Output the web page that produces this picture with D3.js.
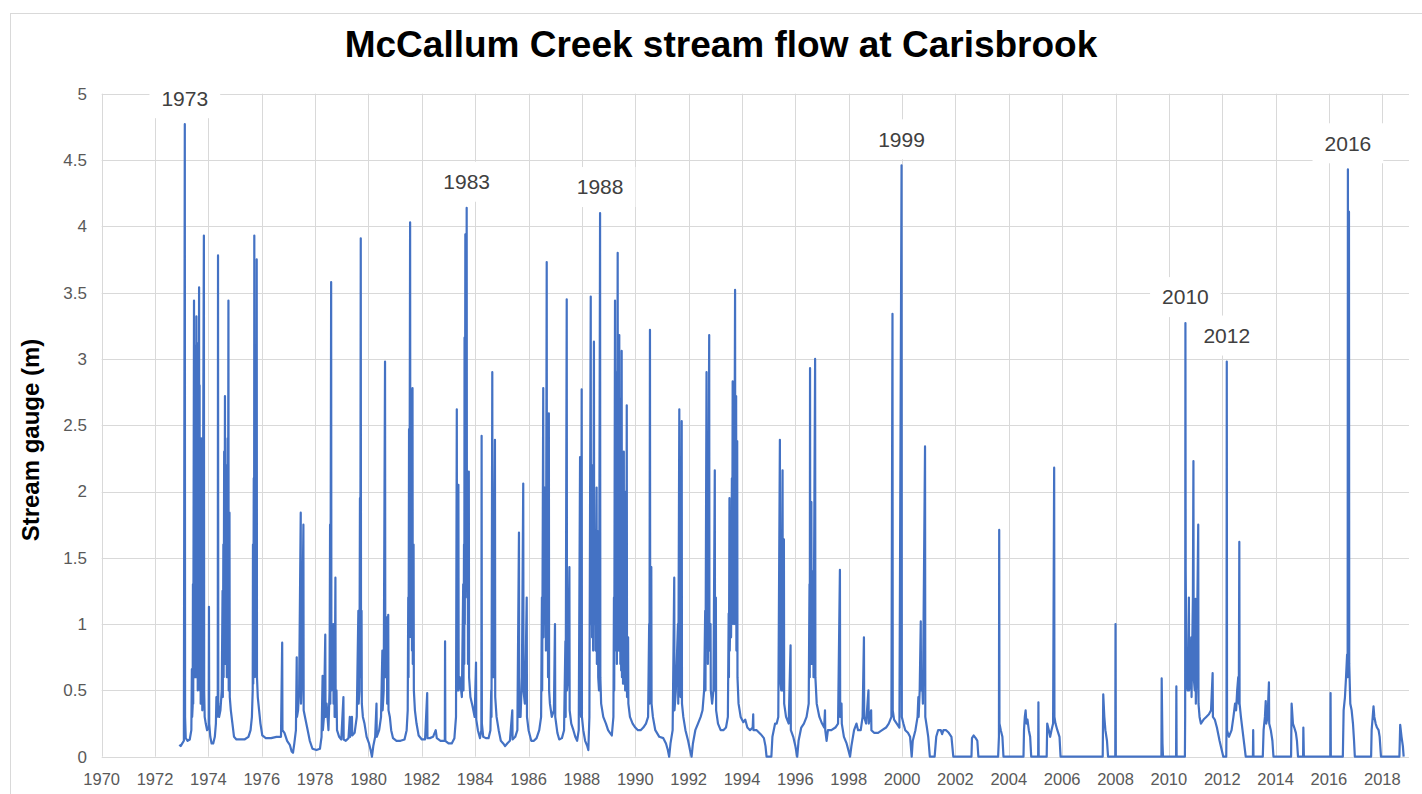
<!DOCTYPE html>
<html><head><meta charset="utf-8">
<script src="https://cdn.jsdelivr.net/npm/d3@7"></script>
<style>body{margin:0;background:#fff} svg{display:block}</style>
</head><body><svg id="c" width="1422" height="794"></svg>
<script>
// Stream gauge readings (m) as [decimal year, gauge height]
const flow1970s = [[1972.91,0.09],[1972.96,0.08],[1973.02,0.1],[1973.08,0.12],[1973.115,4.77],[1973.125,0.3],[1973.15,0.14],[1973.22,0.12],[1973.3,0.13],[1973.36,0.2],
[1973.38,0.66],[1973.39,0.3],[1973.41,0.38],[1973.42,1.3],[1973.43,0.4],
[1973.46,3.44],[1973.47,0.8],[1973.48,2.6],[1973.49,0.6],[1973.5,3.1],[1973.51,0.7],[1973.52,2.95],[1973.53,0.6],[1973.55,3.32],[1973.56,0.9],[1973.57,3.0],[1973.58,0.7],[1973.59,2.9],[1973.6,0.5],[1973.62,3.12],[1973.63,0.8],[1973.65,3.54],[1973.66,0.6],[1973.67,2.8],[1973.68,0.5],[1973.7,1.9],[1973.71,0.4],[1973.73,2.4],[1973.74,0.4],[1973.76,1.2],[1973.77,0.35],[1973.83,3.93],[1973.84,0.5],[1973.86,0.3],[1973.9,0.25],[1973.95,0.2],[1974.01,0.22],[1974.02,1.13],[1974.03,0.25],[1974.07,0.15],[1974.12,0.1],[1974.18,0.1],[1974.24,0.15],[1974.28,0.25],[1974.3,0.45],[1974.32,0.3],[1974.35,0.35],[1974.36,3.78],[1974.37,0.4],[1974.4,0.3],[1974.45,0.35],[1974.5,0.5],[1974.53,1.25],[1974.54,0.45],[1974.56,1.6],[1974.57,0.6],[1974.59,2.3],[1974.6,0.7],[1974.62,2.72],[1974.63,0.9],[1974.65,2.2],[1974.66,0.7],[1974.68,1.9],[1974.69,0.6],[1974.72,2.4],[1974.73,0.6],[1974.75,3.44],[1974.76,0.5],[1974.79,1.84],[1974.8,0.45],[1974.84,0.35],[1974.9,0.25],[1974.96,0.15],
[1975.05,0.13],[1975.2,0.13],[1975.35,0.13],[1975.5,0.15],[1975.58,0.2],[1975.63,0.3],[1975.66,0.5],[1975.67,1.6],[1975.68,0.55],[1975.7,2.1],[1975.71,0.6],[1975.72,3.93],[1975.73,0.9],[1975.75,2.9],[1975.76,0.8],[1975.78,2.2],[1975.79,0.6],[1975.81,3.75],[1975.82,0.6],[1975.85,0.45],[1975.9,0.35],[1975.95,0.25],
[1976.02,0.16],[1976.15,0.14],[1976.35,0.14],[1976.55,0.15],[1976.72,0.15],[1976.765,0.86],[1976.775,0.2],[1976.85,0.18],[1976.95,0.12],
[1977.05,0.09],[1977.12,0.04],[1977.17,0.03],[1977.22,0.1],[1977.28,0.2],[1977.31,0.75],[1977.32,0.3],[1977.36,0.35],[1977.4,0.5],[1977.46,1.84],[1977.47,0.4],[1977.5,0.6],[1977.56,1.75],[1977.57,0.35],[1977.62,0.3],[1977.7,0.22],[1977.8,0.12],[1977.9,0.06],
[1978.05,0.05],[1978.18,0.06],[1978.24,0.15],[1978.28,0.61],[1978.29,0.2],[1978.33,0.3],[1978.38,0.92],[1978.39,0.3],[1978.43,0.4],[1978.5,0.2],[1978.54,0.5],[1978.56,1.75],[1978.57,0.4],[1978.6,3.58],[1978.61,0.5],[1978.65,0.6],[1978.68,1.0],[1978.69,0.4],[1978.72,0.9],[1978.73,0.3],[1978.76,1.35],[1978.77,0.3],[1978.8,0.5],[1978.82,0.2],[1978.9,0.15],[1978.98,0.13],
[1979.06,0.45],[1979.07,0.13],[1979.15,0.12],[1979.25,0.14],[1979.3,0.3],[1979.31,0.15],[1979.38,0.3],[1979.39,0.16],[1979.48,0.18],[1979.56,0.3],[1979.62,1.1],[1979.63,0.4],[1979.66,0.5],[1979.68,1.95],[1979.69,0.6],[1979.71,3.91],[1979.72,0.7],[1979.74,1.1],[1979.75,0.4],[1979.79,0.3],[1979.85,0.25],[1979.93,0.15]];

const flow1980s = [[1980.02,0.1],[1980.08,0.05],[1980.13,0.0],[1980.18,0.08],[1980.25,0.15],[1980.3,0.4],[1980.31,0.15],[1980.4,0.2],[1980.47,0.3],[1980.52,0.8],[1980.53,0.35],[1980.57,0.5],[1980.62,2.98],[1980.63,0.6],[1980.66,0.7],[1980.69,1.05],[1980.7,0.4],[1980.74,1.07],[1980.75,0.35],[1980.8,0.3],[1980.85,0.2],[1980.92,0.14],
[1981.05,0.12],[1981.2,0.12],[1981.35,0.13],[1981.43,0.2],[1981.47,0.35],[1981.49,1.2],[1981.5,0.6],[1981.52,2.47],[1981.53,0.9],[1981.56,4.03],[1981.57,1.1],[1981.59,2.77],[1981.6,0.9],[1981.62,2.5],[1981.63,0.8],[1981.65,2.78],[1981.66,0.7],[1981.69,1.6],[1981.7,0.5],[1981.74,0.35],[1981.8,0.25],[1981.88,0.16],
[1982.0,0.13],[1982.12,0.13],[1982.2,0.48],[1982.21,0.14],[1982.3,0.14],[1982.42,0.15],[1982.52,0.2],[1982.56,0.14],[1982.7,0.12],[1982.86,0.12],[1982.87,0.87],[1982.88,0.12],
[1983.0,0.1],[1983.12,0.1],[1983.22,0.14],[1983.28,0.3],[1983.31,2.62],[1983.32,0.5],[1983.37,2.05],[1983.38,0.5],[1983.42,0.6],[1983.5,0.45],[1983.55,1.3],[1983.56,0.5],[1983.58,1.6],[1983.59,0.7],[1983.6,3.16],[1983.61,1.0],[1983.63,3.94],[1983.64,1.2],[1983.66,2.5],[1983.67,1.3],[1983.68,4.14],[1983.69,1.3],[1983.72,1.6],[1983.73,0.7],[1983.76,2.15],[1983.77,0.6],[1983.82,0.45],[1983.9,0.38],[1983.98,0.3],
[1984.03,0.71],[1984.04,0.28],[1984.1,0.2],[1984.18,0.14],[1984.23,0.2],[1984.24,2.42],[1984.25,0.25],[1984.3,0.15],[1984.4,0.14],[1984.5,0.14],[1984.57,0.2],[1984.6,0.5],[1984.61,0.3],[1984.64,2.9],[1984.65,0.8],[1984.67,1.46],[1984.68,0.6],[1984.74,2.39],[1984.75,0.45],[1984.8,0.3],[1984.88,0.2],[1984.96,0.12],
[1985.05,0.1],[1985.12,0.08],[1985.2,0.1],[1985.3,0.12],[1985.39,0.35],[1985.4,0.13],[1985.5,0.15],[1985.58,0.2],[1985.64,1.69],[1985.65,0.3],[1985.7,0.3],[1985.75,0.6],[1985.8,2.06],[1985.81,0.5],[1985.86,0.4],[1985.9,0.8],[1985.93,1.2],[1985.94,0.3],
[1986.0,0.2],[1986.1,0.12],[1986.2,0.12],[1986.3,0.14],[1986.4,0.2],[1986.47,0.3],[1986.5,1.2],[1986.51,0.5],[1986.55,2.78],[1986.56,0.9],[1986.6,2.03],[1986.61,1.0],[1986.64,1.8],[1986.65,0.8],[1986.68,3.73],[1986.69,1.0],[1986.72,1.5],[1986.73,0.6],[1986.76,2.59],[1986.77,0.5],[1986.8,0.4],[1986.87,0.3],[1986.95,0.35],[1986.99,1.0],
[1987.0,0.3],[1987.08,0.18],[1987.15,0.13],[1987.25,0.14],[1987.33,0.2],[1987.38,0.87],[1987.39,0.3],[1987.43,3.45],[1987.44,0.5],[1987.48,0.6],[1987.53,1.43],[1987.54,0.35],[1987.6,0.25],[1987.68,0.2],[1987.75,0.15],[1987.82,0.12],[1987.88,0.2],[1987.93,2.26],[1987.94,0.4],[1987.97,0.3],[1987.99,2.77],
[1988.0,0.3],[1988.05,0.2],[1988.12,0.12],[1988.2,0.08],[1988.24,0.05],[1988.28,0.3],[1988.33,3.47],[1988.34,1.0],[1988.37,2.2],[1988.38,0.9],[1988.41,1.75],[1988.42,0.8],[1988.45,3.13],[1988.46,1.0],[1988.5,1.6],[1988.51,0.8],[1988.55,2.03],[1988.56,0.7],[1988.6,1.7],[1988.61,0.6],[1988.64,0.5],[1988.68,4.1],[1988.69,0.6],[1988.72,0.4],[1988.8,0.3],[1988.9,0.25],[1988.98,0.2],
[1989.05,0.18],[1989.12,0.16],[1989.18,0.3],[1989.2,1.2],[1989.21,0.5],[1989.24,3.44],[1989.25,1.0],[1989.27,2.4],[1989.28,0.8],[1989.3,2.9],[1989.31,0.7],[1989.34,3.8],[1989.35,0.9],[1989.37,2.2],[1989.38,0.8],[1989.4,3.18],[1989.41,0.8],[1989.43,2.1],[1989.44,0.7],[1989.46,2.7],[1989.47,0.65],[1989.49,3.06],[1989.5,0.6],[1989.53,1.8],[1989.54,0.55],[1989.57,2.3],[1989.58,0.55],[1989.61,1.5],[1989.62,0.5],[1989.65,2.0],[1989.66,0.5],[1989.68,2.65],[1989.69,0.45],[1989.73,0.9],[1989.74,0.4],[1989.8,0.3],[1989.9,0.25]];

const flow1990s = [[1990.0,0.22],[1990.1,0.2],[1990.2,0.2],[1990.3,0.22],[1990.4,0.25],[1990.48,0.3],[1990.52,1.0],[1990.53,0.4],[1990.55,3.22],[1990.56,0.6],[1990.6,1.43],[1990.61,0.4],[1990.66,0.3],[1990.75,0.2],[1990.9,0.15],
[1991.05,0.14],[1991.15,0.1],[1991.22,0.05],[1991.27,0.0],[1991.32,0.1],[1991.4,0.2],[1991.46,1.35],[1991.47,0.35],[1991.52,0.5],[1991.6,1.0],[1991.61,0.4],[1991.65,2.62],[1991.66,0.5],[1991.7,0.45],[1991.74,2.53],[1991.75,0.4],[1991.8,0.3],[1991.88,0.2],[1991.98,0.12],
[1992.05,0.05],[1992.11,0.0],[1992.16,0.1],[1992.25,0.2],[1992.35,0.25],[1992.45,0.3],[1992.52,0.35],[1992.58,0.5],[1992.62,1.1],[1992.63,0.5],[1992.67,2.9],[1992.68,0.9],[1992.71,1.6],[1992.72,0.7],[1992.77,3.18],[1992.78,0.8],[1992.82,1.0],[1992.83,0.5],[1992.88,0.4],[1992.93,0.5],[1992.98,2.16],[1992.99,0.5],
[1993.02,1.2],[1993.03,0.35],[1993.1,0.25],[1993.2,0.2],[1993.3,0.2],[1993.4,0.22],[1993.47,0.3],[1993.5,1.08],[1993.51,0.6],[1993.53,1.95],[1993.54,0.8],[1993.58,1.3],[1993.59,0.9],[1993.62,2.1],[1993.63,1.0],[1993.65,2.83],[1993.66,1.1],[1993.69,1.9],[1993.7,1.0],[1993.74,3.52],[1993.75,1.0],[1993.78,2.72],[1993.79,0.8],[1993.82,2.38],[1993.83,0.6],[1993.87,0.4],[1993.95,0.3],
[1994.05,0.26],[1994.12,0.28],[1994.2,0.22],[1994.3,0.2],[1994.4,0.22],[1994.42,0.32],[1994.43,0.2],[1994.55,0.2],[1994.7,0.17],[1994.82,0.14],[1994.88,0.08],[1994.92,0.0],
[1995.1,0.0],[1995.14,0.15],[1995.24,0.25],[1995.3,0.25],[1995.36,0.3],[1995.42,2.39],[1995.43,0.6],[1995.47,0.5],[1995.52,2.16],[1995.53,0.5],[1995.57,1.64],[1995.58,0.4],[1995.65,0.3],[1995.75,0.25],[1995.82,0.84],[1995.83,0.2],[1995.92,0.15],
[1996.0,0.08],[1996.07,0.0],[1996.12,0.12],[1996.22,0.22],[1996.32,0.25],[1996.42,0.3],[1996.5,0.4],[1996.53,1.3],[1996.54,0.6],[1996.55,2.93],[1996.56,1.0],[1996.6,1.92],[1996.61,0.7],[1996.67,1.4],[1996.68,0.6],[1996.74,3.0],[1996.75,0.6],[1996.8,0.4],[1996.9,0.3],
[1997.0,0.25],[1997.08,0.22],[1997.11,0.35],[1997.12,0.2],[1997.17,0.12],[1997.22,0.2],[1997.35,0.2],[1997.5,0.22],[1997.6,0.25],[1997.67,1.41],[1997.68,0.3],[1997.73,0.4],[1997.74,0.25],[1997.82,0.15],[1997.92,0.1],
[1998.0,0.04],[1998.05,0.0],[1998.1,0.08],[1998.2,0.2],[1998.29,0.25],[1998.35,0.2],[1998.45,0.2],[1998.52,0.3],[1998.57,0.9],[1998.58,0.3],[1998.65,0.25],[1998.74,0.5],[1998.75,0.25],[1998.84,0.35],[1998.85,0.2],[1998.95,0.18],
[1999.1,0.18],[1999.25,0.2],[1999.4,0.22],[1999.5,0.25],[1999.6,0.3],[1999.64,3.34],[1999.65,0.35],[1999.7,0.28],[1999.8,0.25],[1999.9,0.22],[1999.98,4.46],[1999.99,0.3]];

const flow2000s = [[2000.05,0.25],[2000.12,0.2],[2000.22,0.18],[2000.3,0.15],[2000.36,0.0],[2000.4,0.12],[2000.5,0.2],[2000.58,0.3],[2000.61,0.45],[2000.62,0.3],[2000.66,0.5],[2000.7,1.02],[2000.71,0.5],[2000.75,0.6],[2000.78,0.4],[2000.86,2.34],[2000.87,0.3],[2000.93,0.22],[2000.98,0.15],
[2001.04,0.0],[2001.22,0.0],[2001.28,0.15],[2001.35,0.2],[2001.45,0.2],[2001.5,0.17],[2001.55,0.2],[2001.65,0.2],[2001.75,0.18],[2001.85,0.15],[2001.92,0.0],
[2002.6,0.0],[2002.62,0.14],[2002.68,0.16],[2002.76,0.14],[2002.82,0.12],[2002.86,0.0],
[2003.6,0.0],[2003.63,0.15],[2003.64,1.71],[2003.65,0.25],[2003.7,0.2],[2003.76,0.15],[2003.8,0.0],
[2004.55,0.0],[2004.57,0.2],[2004.6,0.3],[2004.63,0.35],[2004.66,0.25],[2004.7,0.28],[2004.75,0.2],[2004.8,0.15],[2004.84,0.0],
[2005.1,0.0],[2005.11,0.41],[2005.12,0.0],[2005.42,0.0],[2005.44,0.25],[2005.5,0.2],[2005.55,0.15],[2005.6,0.2],[2005.66,0.25],[2005.7,2.18],[2005.71,0.3],[2005.75,0.25],[2005.82,0.2],[2005.9,0.15],[2005.94,0.0],
[2007.52,0.0],[2007.54,0.47],[2007.58,0.3],[2007.62,0.2],[2007.68,0.12],[2007.72,0.0],
[2007.99,0.0],[2008.0,1.0],[2008.01,0.0],
[2009.72,0.0],[2009.73,0.59],[2009.76,0.1],[2009.78,0.0]];

const flow2010s = [[2010.27,0.0],[2010.28,0.53],[2010.29,0.0],[2010.6,0.0],[2010.61,0.3],[2010.62,3.27],[2010.63,1.4],[2010.66,0.6],[2010.7,0.5],[2010.73,0.7],[2010.75,1.2],[2010.76,0.5],[2010.8,0.6],[2010.84,0.9],[2010.85,0.45],[2010.9,1.2],[2010.92,2.23],[2010.93,0.6],[2010.97,0.5],
[2011.0,1.19],[2011.01,0.4],[2011.05,0.7],[2011.07,1.2],[2011.1,1.75],[2011.11,0.4],[2011.15,0.3],[2011.2,0.25],[2011.3,0.28],[2011.4,0.3],[2011.5,0.32],[2011.58,0.35],[2011.64,0.63],[2011.65,0.3],[2011.72,0.28],[2011.8,0.22],[2011.9,0.12],[2011.98,0.05],
[2012.04,0.0],[2012.15,0.0],[2012.16,0.2],[2012.17,2.98],[2012.18,0.2],[2012.25,0.15],[2012.35,0.2],[2012.42,0.3],[2012.48,0.4],[2012.52,0.35],[2012.56,0.5],[2012.6,0.6],[2012.62,0.4],[2012.64,1.62],[2012.65,0.4],[2012.7,0.3],[2012.76,0.2],[2012.82,0.1],[2012.88,0.0],
[2013.15,0.0],[2013.16,0.2],[2013.17,0.0],[2013.52,0.0],[2013.55,0.2],[2013.6,0.3],[2013.63,0.42],[2013.65,0.25],[2013.7,0.3],[2013.75,0.56],[2013.76,0.25],[2013.82,0.2],[2013.88,0.12],[2013.92,0.0],
[2014.58,0.0],[2014.6,0.4],[2014.65,0.25],[2014.7,0.22],[2014.76,0.18],[2014.8,0.12],[2014.84,0.0],
[2015.03,0.0],[2015.04,0.22],[2015.06,0.0],
[2016.05,0.0],[2016.06,0.48],[2016.07,0.0],[2016.52,0.0],[2016.55,0.35],[2016.6,0.45],[2016.64,0.6],[2016.68,0.77],[2016.7,0.6],[2016.71,4.43],[2016.72,1.0],[2016.74,0.8],[2016.75,4.11],[2016.76,0.7],[2016.8,0.4],[2016.85,0.35],[2016.9,0.25],[2016.94,0.12],[2016.97,0.0],
[2017.58,0.0],[2017.6,0.2],[2017.64,0.3],[2017.67,0.38],[2017.7,0.3],[2017.75,0.25],[2017.8,0.22],[2017.86,0.2],[2017.9,0.15],[2017.95,0.0],
[2018.64,0.0],[2018.67,0.24],[2018.72,0.15],[2018.77,0.08],[2018.8,0.0]];

const yTickValues = [0,0.5,1,1.5,2,2.5,3,3.5,4,4.5,5];
const xTickYears = [1970,1972,1974,1976,1978,1980,1982,1984,1986,1988,1990,1992,1994,1996,1998,2000,2002,2004,2006,2008,2010,2012,2014,2016,2018];
const peakLabels = ["1973","1983","1988","1999","2010","2012","2016"];
const peakTimes = [1973.115,1983.68,1988.68,1999.98,2010.62,2012.17,2016.71];

const titleText = "McCallum Creek stream flow at Carisbrook";
const yAxisTitle = "Stream gauge (m)";

const data = [].concat(flow1970s, flow1980s, flow1990s, flow2000s, flow2010s).map(([t, v]) => ({t, v}));

const svg = d3.select("#c");
const FONT = "'Liberation Sans', Arial, sans-serif";
const x = d3.scaleLinear().domain([1970, 2019]).range([101.7, 1409]);
const y = d3.scaleLinear().domain([0, 5]).range([756.7, 93.7]);

// outer chart border
svg.append("rect").attr("x", 10.5).attr("y", 13.5).attr("width", 1440).attr("height", 820)
  .attr("fill", "#fff").attr("stroke", "#d9d9d9").attr("stroke-width", 1);

// gridlines
const grid = svg.append("g");
grid.selectAll("line.h").data(yTickValues).join("line").attr("class", "h")
  .attr("x1", x(1970)).attr("x2", x(2019))
  .attr("y1", d => Math.round(y(d)) + 0.5).attr("y2", d => Math.round(y(d)) + 0.5)
  .attr("stroke", "#d9d9d9").attr("stroke-width", 1);
grid.selectAll("line.v").data(xTickYears).join("line").attr("class", "v")
  .attr("x1", d => Math.round(x(d)) + 0.5).attr("x2", d => Math.round(x(d)) + 0.5)
  .attr("y1", y(5)).attr("y2", y(0))
  .attr("stroke", "#d9d9d9").attr("stroke-width", 1);

// y tick labels
svg.append("g").selectAll("text").data(yTickValues).join("text")
  .attr("x", 87).attr("y", d => y(d)).attr("dy", "0.35em")
  .attr("text-anchor", "end").attr("font-family", FONT).attr("font-size", 17).attr("fill", "#595959")
  .text(d => d3.format("~g")(d));

// x tick labels
svg.append("g").selectAll("text").data(xTickYears).join("text")
  .attr("x", d => x(d)).attr("y", 785)
  .attr("text-anchor", "middle").attr("font-family", FONT).attr("font-size", 16.5).attr("fill", "#595959")
  .text(d => d);

// data line
const line = d3.line().x(d => x(d.t)).y(d => y(d.v));
svg.append("path").datum(data).attr("d", line)
  .attr("fill", "none").attr("stroke", "#4472C4").attr("stroke-width", 2.2)
  .attr("stroke-linejoin", "round");

// peak labels
const lab = svg.append("g");
peakLabels.forEach((txt, i) => {
  const pt = data.reduce((a, b) => Math.abs(b.t - peakTimes[i]) < Math.abs(a.t - peakTimes[i]) ? b : a);
  const cx = x(pt.t), cy = y(pt.v) - 26;
  const g = lab.append("g");
  const rect = g.append("rect").attr("fill", "#fff");
  const t = g.append("text").attr("x", cx).attr("y", cy).attr("dy", "0.35em")
    .attr("text-anchor", "middle").attr("font-family", FONT).attr("font-size", 21).attr("fill", "#404040").text(txt);
  const bb = t.node().getBBox();
  rect.attr("x", bb.x - 12).attr("y", cy - 20).attr("width", bb.width + 24).attr("height", 40);
});

// title
svg.append("text").attr("x", 721).attr("y", 57).attr("text-anchor", "middle")
  .attr("font-family", FONT).attr("font-weight", "bold").attr("font-size", 37).attr("fill", "#000")
  .text(titleText);

// y axis title
svg.append("text").attr("transform", "translate(31,440) rotate(-90)").attr("dy", "0.35em")
  .attr("text-anchor", "middle").attr("font-family", FONT).attr("font-weight", "bold").attr("font-size", 24).attr("fill", "#000")
  .text(yAxisTitle);
</script></body></html>
